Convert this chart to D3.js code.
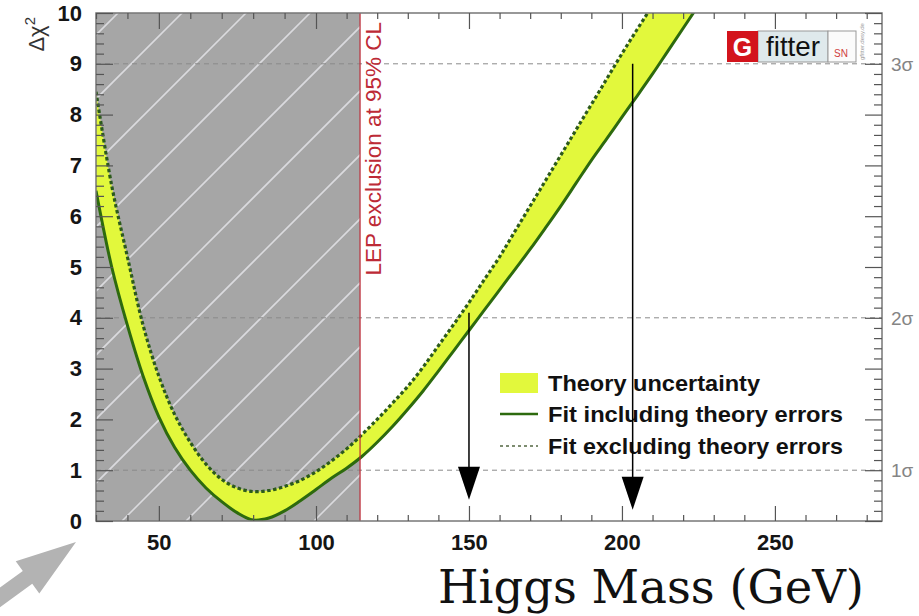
<!DOCTYPE html>
<html>
<head>
<meta charset="utf-8">
<script src="https://cdn.jsdelivr.net/npm/d3@7"></script>
<style>
  body { margin: 0; background: #fff; }
  svg { display: block; }
</style>
</head>
<body>
<svg id="chart" width="919" height="616"></svg>
<script>
// Higgs mass scan: Δχ² of the electroweak fit versus M_H
const masses = [30, 35, 40, 45, 50, 55, 60, 65, 70, 75, 80, 85, 90, 95, 100, 105, 110, 115, 120, 125,
                130, 135, 140, 145, 150, 155, 160, 165, 170, 175, 180, 185, 190, 195, 200, 205, 210, 215, 220, 225, 230];
// Fit including theory errors (lower edge of the band, solid line)
const fitWithTheory = [6.5, 5.0, 3.85, 2.85, 2.05, 1.45, 1.0, 0.65, 0.38, 0.16, 0.02, 0.06, 0.2, 0.4, 0.62, 0.84, 1.04, 1.27, 1.55, 1.86,
                       2.2, 2.56, 2.95, 3.35, 3.75, 4.15, 4.55, 4.95, 5.35, 5.77, 6.2, 6.65, 7.1, 7.52, 7.95, 8.37, 8.8, 9.25, 9.7, 10.15, 10.6];
// Fit excluding theory errors (upper edge of the band, dotted line)
const fitWithoutTheory = [8.45, 6.6, 5.2, 3.85, 2.85, 2.1, 1.55, 1.12, 0.82, 0.65, 0.58, 0.6, 0.68, 0.8, 0.97, 1.18, 1.42, 1.7, 2.0, 2.32,
                          2.65, 3.03, 3.45, 3.87, 4.3, 4.75, 5.2, 5.7, 6.2, 6.7, 7.2, 7.7, 8.2, 8.7, 9.2, 9.68, 10.15, 10.65, 11.2, 11.75, 12.3];

const xMajorTicks = [50, 100, 150, 200, 250];
const xMinorTicks = d3.range(30, 290, 10);
const yMajorTicks = [0, 1, 2, 3, 4, 5, 6, 7, 8, 9, 10];
const yMinorTicks = d3.range(0, 10.001, 0.2);
const sigmaLevels = [1, 4, 9];
const sigmaLabels = ["1σ", "2σ", "3σ"];
const lepLimit = 114.4;
const lepLabel = "LEP exclusion at 95% CL";
const arrowMass = [150, 203.5];
const arrowFrom = [4.1, 9.0];
const arrowTo = [0.42, 0.22];
const legendLabels = ["Theory uncertainty", "Fit including theory errors", "Fit excluding theory errors"];
const xTitle = "Higgs Mass (GeV)";

const C = {
  band: "#e2f83c",
  solid: "#2d6a0e",
  dotted: "#2c5a1c",
  shade: "#a6a6a6",
  hatch: "#e4e4e8",
  lep: "#bd2a36",
  frame: "#777",
  grid: "#8a8a8a"
};

const svg = d3.select("#chart");
const P = { left: 96, right: 882, top: 13, bottom: 521 };

const x = d3.scaleLinear().domain([30, 100, 285]).range([P.left, 316, P.right]);
const y = d3.scaleLinear().domain([0, 10]).range([P.bottom, P.top]);

svg.append("defs").append("clipPath").attr("id", "plotClip")
  .append("rect").attr("x", P.left).attr("y", P.top)
  .attr("width", P.right - P.left).attr("height", P.bottom - P.top);

const plot = svg.append("g").attr("clip-path", "url(#plotClip)");

// LEP-excluded region with hatching
const shadeW = x(lepLimit) - P.left;
plot.append("rect").attr("x", P.left).attr("y", P.top)
  .attr("width", shadeW).attr("height", P.bottom - P.top).attr("fill", C.shade);

svg.select("defs").append("clipPath").attr("id", "shadeClip")
  .append("rect").attr("x", P.left).attr("y", P.top)
  .attr("width", shadeW).attr("height", P.bottom - P.top);
const hatch = plot.append("g").attr("clip-path", "url(#shadeClip)");
const hatchStep = 64;
for (let c = P.left + P.top + 22 - hatchStep * 10; c < x(lepLimit) + P.bottom + hatchStep; c += hatchStep) {
  hatch.append("line")
    .attr("x1", c - P.bottom).attr("y1", P.bottom)
    .attr("x2", c - P.top + 40).attr("y2", P.top - 40)
    .attr("stroke", C.hatch).attr("stroke-width", 1.6).attr("opacity", 0.85);
}

// Sigma reference lines
plot.selectAll("line.sigma").data(sigmaLevels).join("line")
  .attr("class", "sigma")
  .attr("x1", P.left).attr("x2", P.right)
  .attr("y1", d => y(d)).attr("y2", d => y(d))
  .attr("stroke", C.grid).attr("stroke-width", 1).attr("stroke-dasharray", "5,4");

// Theory band and fit curves
const rows = masses.map((m, i) => ({ m, lo: fitWithTheory[i], hi: fitWithoutTheory[i] }));
const curve = d3.curveCatmullRom.alpha(0.5);

plot.append("path").datum(rows)
  .attr("d", d3.area().curve(curve).x(d => x(d.m)).y0(d => y(d.lo)).y1(d => y(d.hi)))
  .attr("fill", C.band);

plot.append("path").datum(rows)
  .attr("d", d3.line().curve(curve).x(d => x(d.m)).y(d => y(d.hi)))
  .attr("fill", "none").attr("stroke", C.dotted).attr("stroke-width", 3.2)
  .attr("stroke-dasharray", "3.5,2.5");

plot.append("path").datum(rows)
  .attr("d", d3.line().curve(curve).x(d => x(d.m)).y(d => y(d.lo)))
  .attr("fill", "none").attr("stroke", C.solid).attr("stroke-width", 3);

// LEP limit line
plot.append("line")
  .attr("x1", x(lepLimit)).attr("x2", x(lepLimit))
  .attr("y1", P.top).attr("y2", P.bottom)
  .attr("stroke", C.lep).attr("stroke-width", 1.2);

svg.append("text")
  .attr("transform", `translate(${x(lepLimit) + 21},${P.top + 9}) rotate(-90)`)
  .attr("text-anchor", "end")
  .attr("font-family", "Liberation Sans, Arial, sans-serif")
  .attr("font-size", 22.5).attr("fill", C.lep)
  .text(lepLabel);

// Frame and axes
svg.append("rect").attr("x", P.left).attr("y", P.top)
  .attr("width", P.right - P.left).attr("height", P.bottom - P.top)
  .attr("fill", "none").attr("stroke", C.frame).attr("stroke-width", 1.5);

function styleAxis(g) {
  g.select(".domain").remove();
  g.selectAll(".tick line").attr("stroke", "#555").attr("stroke-width", 1.2);
  g.selectAll(".tick text")
    .attr("font-family", "Liberation Sans, Arial, sans-serif")
    .attr("font-weight", "bold").attr("font-size", 22).attr("fill", "#151515");
}
const minorX = xMinorTicks.filter(v => !xMajorTicks.includes(v));
const minorY = yMinorTicks.filter(v => Math.abs(v - Math.round(v)) > 1e-6);

svg.append("g").attr("transform", `translate(0,${P.bottom})`)
  .call(d3.axisBottom(x).tickValues(minorX).tickSize(-6).tickFormat("")).call(styleAxis);
svg.append("g").attr("transform", `translate(0,${P.bottom})`)
  .call(d3.axisBottom(x).tickValues(xMajorTicks).tickSize(-15).tickPadding(13).tickFormat(d3.format("d")))
  .call(styleAxis);
svg.append("g").attr("transform", `translate(0,${P.top})`)
  .call(d3.axisTop(x).tickValues(minorX).tickSize(-6).tickFormat("")).call(styleAxis);
svg.append("g").attr("transform", `translate(0,${P.top})`)
  .call(d3.axisTop(x).tickValues(xMajorTicks).tickSize(-16).tickFormat("")).call(styleAxis);

svg.append("g").attr("transform", `translate(${P.left},0)`)
  .call(d3.axisLeft(y).tickValues(minorY).tickSize(-8).tickFormat("")).call(styleAxis);
svg.append("g").attr("transform", `translate(${P.left},0)`)
  .call(d3.axisLeft(y).tickValues(yMajorTicks).tickSize(-17).tickPadding(14).tickFormat(d3.format("d")))
  .call(styleAxis);
svg.append("g").attr("transform", `translate(${P.right},0)`)
  .call(d3.axisRight(y).tickValues(minorY).tickSize(-8).tickFormat("")).call(styleAxis);
svg.append("g").attr("transform", `translate(${P.right},0)`)
  .call(d3.axisRight(y).tickValues(yMajorTicks).tickSize(-17).tickFormat("")).call(styleAxis);

// Sigma labels on the right
svg.selectAll("text.sigmaLabel").data(sigmaLevels).join("text")
  .attr("class", "sigmaLabel")
  .attr("x", P.right + 9).attr("y", d => y(d) + 7)
  .attr("font-family", "Liberation Sans, Arial, sans-serif")
  .attr("font-size", 19).attr("fill", "#858585")
  .text((d, i) => sigmaLabels[i]);

// Y title
const yt = svg.append("text")
  .attr("transform", `translate(44,17) rotate(-90)`)
  .attr("text-anchor", "end")
  .attr("font-family", "Liberation Sans, Arial, sans-serif")
  .attr("font-size", 22).attr("fill", "#333");
yt.append("tspan").text("Δχ");
yt.append("tspan").attr("dy", -9).attr("font-size", 15).text("2");

// X title
svg.append("text")
  .attr("x", 864).attr("y", 603)
  .attr("text-anchor", "end")
  .attr("font-family", "DejaVu Serif, serif")
  .attr("font-size", 46.5).attr("fill", "#111")
  .text(xTitle);

// Legend
const lg = svg.append("g").attr("font-family", "Liberation Sans, Arial, sans-serif")
  .attr("font-weight", "bold").attr("font-size", 22).attr("fill", "#111");
const lgRowY = [383, 414, 446];
const lgTextW = [212, 295, 295];
lg.append("rect").attr("x", 500).attr("y", lgRowY[0] - 10).attr("width", 38).attr("height", 20)
  .attr("fill", C.band);
lg.append("line").attr("x1", 500).attr("x2", 538).attr("y1", lgRowY[1]).attr("y2", lgRowY[1])
  .attr("stroke", C.solid).attr("stroke-width", 2.4);
lg.append("line").attr("x1", 500).attr("x2", 538).attr("y1", lgRowY[2]).attr("y2", lgRowY[2])
  .attr("stroke", "#7d8c70").attr("stroke-width", 2.2).attr("stroke-dasharray", "3,3");
lg.selectAll("text").data(legendLabels).join("text")
  .attr("x", 548).attr("y", (d, i) => lgRowY[i] + 8)
  .attr("textLength", (d, i) => lgTextW[i]).attr("lengthAdjust", "spacingAndGlyphs")
  .text(d => d);

// Arrows
const arrows = svg.append("g");
arrowMass.forEach((m, i) => {
  const ax = x(m), y0 = y(arrowFrom[i]), y1 = y(arrowTo[i]);
  arrows.append("line").attr("x1", ax).attr("x2", ax).attr("y1", y0).attr("y2", y1 - 20)
    .attr("stroke", "#000").attr("stroke-width", 1.5);
  arrows.append("path")
    .attr("d", `M${ax - 11},${y1 - 33}L${ax + 11},${y1 - 33}L${ax},${y1}Z`)
    .attr("fill", "#000");
});

// Pointer arrow near the origin
(function () {
  const tip = [76, 542], ang = Math.atan2(35, -48);
  const ux = Math.cos(ang), uy = Math.sin(ang), nx = -uy, ny = ux;
  const head = 60, hw = 20, sw = 8, len = 140;
  const bx = tip[0] + ux * head, by = tip[1] + uy * head;
  const pts = [
    tip,
    [bx + nx * hw, by + ny * hw],
    [bx + nx * sw, by + ny * sw],
    [tip[0] + ux * len + nx * sw, tip[1] + uy * len + ny * sw],
    [tip[0] + ux * len - nx * sw, tip[1] + uy * len - ny * sw],
    [bx - nx * sw, by - ny * sw],
    [bx - nx * hw, by - ny * hw]
  ];
  svg.append("path").attr("d", "M" + pts.map(p => p.join(",")).join("L") + "Z").attr("fill", "#b3b3b3");
})();

// Gfitter logo
const logo = svg.append("g").attr("font-family", "Liberation Sans, Arial, sans-serif");
logo.append("rect").attr("x", 758).attr("y", 31).attr("width", 70).attr("height", 31)
  .attr("fill", "#dfe9ec").attr("stroke", "#999").attr("stroke-width", 1);
logo.append("rect").attr("x", 828).attr("y", 31).attr("width", 28).attr("height", 31)
  .attr("fill", "#fbfbfb").attr("stroke", "#999").attr("stroke-width", 1);
logo.append("rect").attr("x", 727).attr("y", 31).attr("width", 31).attr("height", 31)
  .attr("fill", "#d3141c");
logo.append("text").attr("x", 742.5).attr("y", 56).attr("text-anchor", "middle")
  .attr("font-size", 25).attr("font-weight", "bold").attr("fill", "#fff").text("G");
logo.append("text").attr("x", 766).attr("y", 56)
  .attr("font-size", 28).attr("fill", "#111")
  .attr("textLength", 54).attr("lengthAdjust", "spacingAndGlyphs").text("fitter");
logo.append("text").attr("x", 841).attr("y", 57).attr("text-anchor", "middle")
  .attr("font-size", 10).attr("fill", "#d04040").text("SN");
logo.append("text").attr("transform", "translate(864,60) rotate(-90)")
  .attr("font-size", 6).attr("fill", "#999").text("gfitter.desy.de");
</script>
</body>
</html>
